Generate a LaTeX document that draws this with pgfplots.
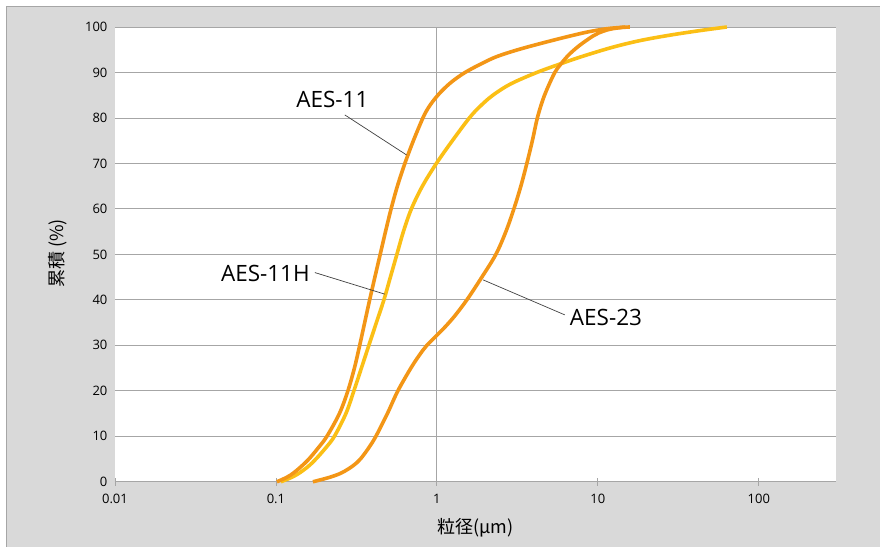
\documentclass[border=0pt]{standalone}
\usepackage{pgfplots}
\pgfplotsset{compat=1.18}
\usepackage{fontspec}
\setmainfont{Open Sans}
\newfontfamily\cjk{Noto Sans CJK JP}
\definecolor{bgc}{HTML}{D9D9D9}
\definecolor{cA}{HTML}{F39616}
\definecolor{cH}{HTML}{FBBF15}
\definecolor{gridc}{HTML}{A6A6A6}
\definecolor{leadc}{HTML}{404040}

\pgfplotstableread{
x y
0.10144 0
0.11707 1
0.12934 2
0.14501 3.5
0.16032 5
0.18365 7.5
0.20740 10
0.24794 15
0.28004 20
0.30736 25
0.33154 30
0.35605 35
0.38235 40
0.41200 45
0.44448 50
0.47952 55
0.51939 60
0.56839 65
0.63275 70
0.71457 75
0.81868 80
0.87676 82
0.96077 84
1.07721 86
1.24266 88
1.49664 90
1.90890 92
2.35887 93.5
3.18485 95
4.55377 96.5
6.70017 98
8.91919 99
11.8740 99.7
15.8053 100
}\aesA

\pgfplotstableread{
x y
0.10741 0
0.12570 1
0.14093 2
0.16032 3.5
0.17720 5
0.20443 7.5
0.23088 10
0.27215 15
0.30514 20
0.33969 25
0.37801 30
0.42092 35
0.46867 40
0.51421 45
0.56436 50
0.61935 55
0.69439 60
0.81287 65
0.99287 70
1.24799 75
1.59155 80
1.84949 82.5
2.22797 85
2.88148 87.5
4.17924 90
5.97657 92
7.95500 93.5
12.2193 95.5
18.2347 97
28.0092 98.2
43.0049 99.2
63.2766 100
}\aesH

\pgfplotstableread{
x y
0.16977 0
0.21645 1
0.25700 2
0.30082 3.5
0.33486 5
0.37801 7.5
0.41792 10
0.49264 15
0.57249 20
0.68945 25
0.78423 28
0.86676 30
0.98580 32
1.12124 34
1.29330 36.5
1.53588 40
1.90338 45
2.32544 50
2.68270 55
3.00817 60
3.32428 65
3.62234 70
3.91966 75
4.20914 80
4.55377 84
4.92638 87
5.40621 90
5.93398 92
6.65227 94
7.73095 96
9.3106 98
10.1441 98.7
11.8740 99.5
14.7152 100
}\aesT

\begin{document}
\begin{tikzpicture}[x=1pt,y=1pt]
\fill[white] (0,0) rectangle (880,547);
\fill[bgc] (6,0) rectangle (880,541);
\draw[gridc, line width=0.8pt] (6,0) -- (6,541) -- (880,541);
\begin{axis}[
  at={(115pt,65pt)}, anchor=south west,
  scale only axis, width=721pt, height=455pt,
  xmode=log, log basis x=10,
  xmin=0.01, xmax=300, ymin=0, ymax=100,
  axis background/.style={fill=white},
  axis line style={draw=none},
  xtick={0.01,0.1,1,10,100},
  xticklabels={0.01,0.1,1,10,100},
  ytick={0,10,...,100},
  xtick pos=bottom, ytick pos=left,
  ymajorgrids,
  major grid style={draw=gridc, line width=0.8pt},
  tick align=center,
  major tick length=8pt, minor tick length=4pt,
  xtick style={draw=gridc, line width=0.8pt},
  minor tick style={yshift=2pt},
  ytick style={draw=none},
  tick label style={font=\fontsize{13}{15}\selectfont, text=black},
  xticklabel style={yshift=-5pt},
  /pgf/number format/assume math mode=true,
  clip=false,
]
\draw[gridc, line width=0.8pt] (axis cs:0.01,0) -- (axis cs:300,0);
\draw[gridc, line width=0.8pt] (axis cs:1,0) -- (axis cs:1,100);
\addplot[cH, line width=3.6pt, smooth, tension=0.55] table {\aesH};
\addplot[cA, line width=3.6pt, smooth, tension=0.55] table {\aesT};
\addplot[cA, line width=3.6pt, smooth, tension=0.55] table {\aesA};
\end{axis}
% labels
\node[font=\cjk\fontsize{18}{20}\selectfont] at (475.5,19) {粒径(μm)};
\node[font=\cjk\fontsize{18}{20}\selectfont, rotate=90] at (58,293.5) {累積 (\%)};
% annotations
\node[font=\fontsize{22.5}{24}\selectfont, inner sep=0pt] at (332.5,447.7) {AES-11};
\draw[leadc, line width=0.7pt] (345,432) -- (406.7,392);
\node[font=\fontsize{22.5}{24}\selectfont, inner sep=0pt, anchor=east] at (310,273.7) {AES-11H};
\draw[leadc, line width=0.7pt] (315,274.3) -- (385,252.7);
\node[font=\fontsize{22.5}{24}\selectfont, inner sep=0pt, anchor=west] at (570,229.7) {AES-23};
\draw[leadc, line width=0.7pt] (565,232) -- (483.3,267);
\end{tikzpicture}
\end{document}
